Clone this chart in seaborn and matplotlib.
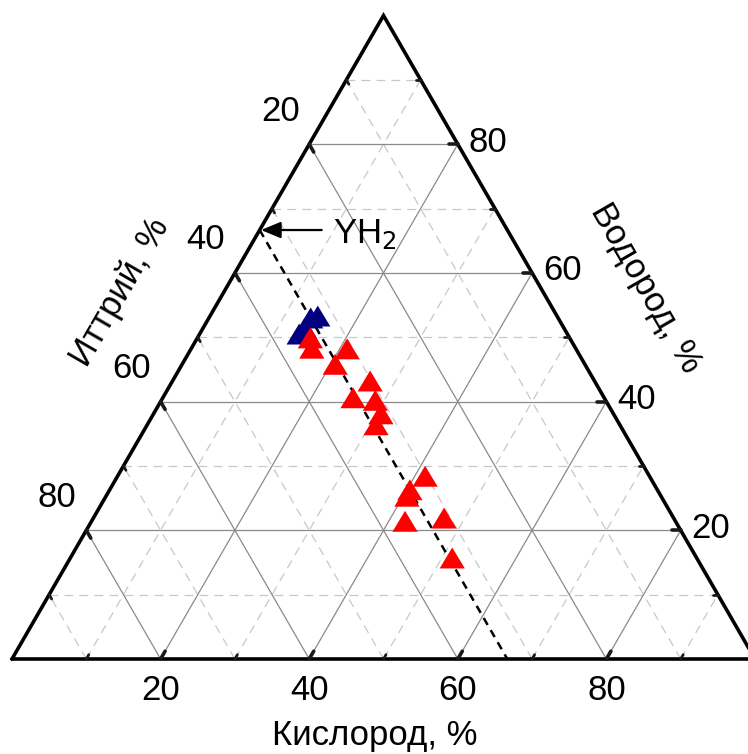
import numpy as np
import pandas as pd
import matplotlib.pyplot as plt
import seaborn as sns

sns.set_theme(style="white")
plt.rcParams['font.family'] = ['Liberation Sans', 'DejaVu Sans']
plt.rcParams['text.color'] = 'black'

# compositions in % (oxygen, hydrogen); yttrium = 100 - O - H
blue_O = [14.5, 13.7, 13.7, 13.4]
blue_H = [53.3, 53.0, 51.4, 50.5]
red_O = [15.2, 16.2, 21.0, 20.6, 26.6, 25.6, 28.8, 30.6, 30.8,
         41.4, 40.4, 40.5, 42.2, 47.2, 51.4]
red_H = [49.9, 48.3, 48.2, 45.8, 43.2, 40.6, 40.2, 38.1, 36.4,
         28.4, 26.3, 25.3, 21.4, 21.9, 15.7]

major = [20, 40, 60, 80]
minor = [10, 30, 50, 70, 90]
tick_labels = ['20', '40', '60', '80']
yh2_H = 200 / 3   # YH2: H/(Y+H) = 2/3

S3 = np.sqrt(3) / 2
PX = 743.0  # pixels per triangle side


def tern(o, h):
    o = np.asarray(o, dtype=float) / 100
    h = np.asarray(h, dtype=float) / 100
    return o + h / 2, h * S3


def px(x, y):
    return (x - 12) / PX, (659 - y) / PX


fig = plt.figure(figsize=(7.48, 7.54), dpi=100)
ax = fig.add_axes([0, 0, 1, 1])
ax.set_xlim(-12 / PX, 736 / PX)
ax.set_ylim(-95 / PX, 659 / PX)
ax.axis('off')


def seg(p, q, **kw):
    x0, y0 = tern(*p)
    x1, y1 = tern(*q)
    ax.plot([x0, x1], [y0, y1], **kw)


# grid
for vals, style in [(minor, dict(color='#c8c8c8', lw=0.9, dashes=(7, 5))),
                    (major, dict(color='#8a8a8a', lw=0.9))]:
    for k in vals:
        seg((0, k), (100 - k, k), zorder=1, **style)          # hydrogen
        seg((k, 0), (k, 100 - k), zorder=1, **style)          # oxygen
        seg((100 - k, 0), (0, 100 - k), zorder=1, **style)    # yttrium

# frame
fx, fy = tern([0, 100, 0, 0], [0, 0, 100, 0])
ax.plot(fx, fy, color='black', lw=2.6, solid_joinstyle='miter', zorder=4)

# ticks
for vals, ln, lw in [(major, 9, 2.6), (minor, 5, 2.0)]:
    L = ln / PX
    for k in vals:
        x, y = tern(k, 0)
        ax.plot([x, x + 0.5 * L], [y, y + S3 * L], color='k', lw=lw, zorder=4)
        x, y = tern(100 - k, k)
        ax.plot([x, x - L], [y, y], color='k', lw=lw, zorder=4)
        x, y = tern(0, 100 - k)
        ax.plot([x, x + 0.5 * L], [y, y - S3 * L], color='k', lw=lw, zorder=4)

# tick labels
fs = 25
k2pt = 0.72
for k, lab in zip(major, tick_labels):
    ax.annotate(lab, tern(k, 0), xytext=(0, -31 * k2pt), textcoords='offset points',
                ha='center', va='center', fontsize=fs)
    ax.annotate(lab, tern(100 - k, k), xytext=(30 * k2pt, 2 * k2pt), textcoords='offset points',
                ha='center', va='center', fontsize=fs)
    ax.annotate(lab, tern(0, 100 - k), xytext=(-29 * k2pt, 33 * k2pt), textcoords='offset points',
                ha='center', va='center', fontsize=fs)

# axis titles
ax.text(*px(375, 735), 'Кислород, %', ha='center', va='center', fontsize=fs)
ax.text(*px(120, 292), 'Иттрий, %', ha='center', va='center', fontsize=fs, rotation=60)
ax.text(*px(646, 288), 'Водород, %', ha='center', va='center', fontsize=fs, rotation=-60)

# YH2 line and label
seg((0, yh2_H), (yh2_H, 0), color='black', lw=1.8, dashes=(3.2, 2.4), zorder=3)
p_yh2 = tern(0, yh2_H)
ax.annotate('', xy=p_yh2, xytext=(62 * k2pt, 0), textcoords='offset points',
            arrowprops=dict(arrowstyle='-|>,head_length=0.6,head_width=0.25',
                            color='black', lw=1.6, shrinkA=0, shrinkB=1,
                            mutation_scale=20), zorder=5)
ax.annotate('YH$_2$', p_yh2, xytext=(73 * k2pt, -13 * k2pt), textcoords='offset points',
            ha='left', va='baseline', fontsize=fs)

# data points
bx, by = tern(blue_O, blue_H)
rx, ry = tern(red_O, red_H)
df = pd.DataFrame({
    'x': np.concatenate([bx, rx]),
    'y': np.concatenate([by, ry]),
    'group': ['blue'] * len(bx) + ['red'] * len(rx),
})
tri = [(-1, -0.83), (1, -0.83), (0, 0.83)]
sns.scatterplot(data=df, x='x', y='y', hue='group',
                palette={'blue': '#000080', 'red': '#ff0000'},
                marker=tri, s=330, linewidth=0, legend=False, ax=ax, zorder=6)
ax.axis('off')

fig.savefig('out.png', dpi=100)
